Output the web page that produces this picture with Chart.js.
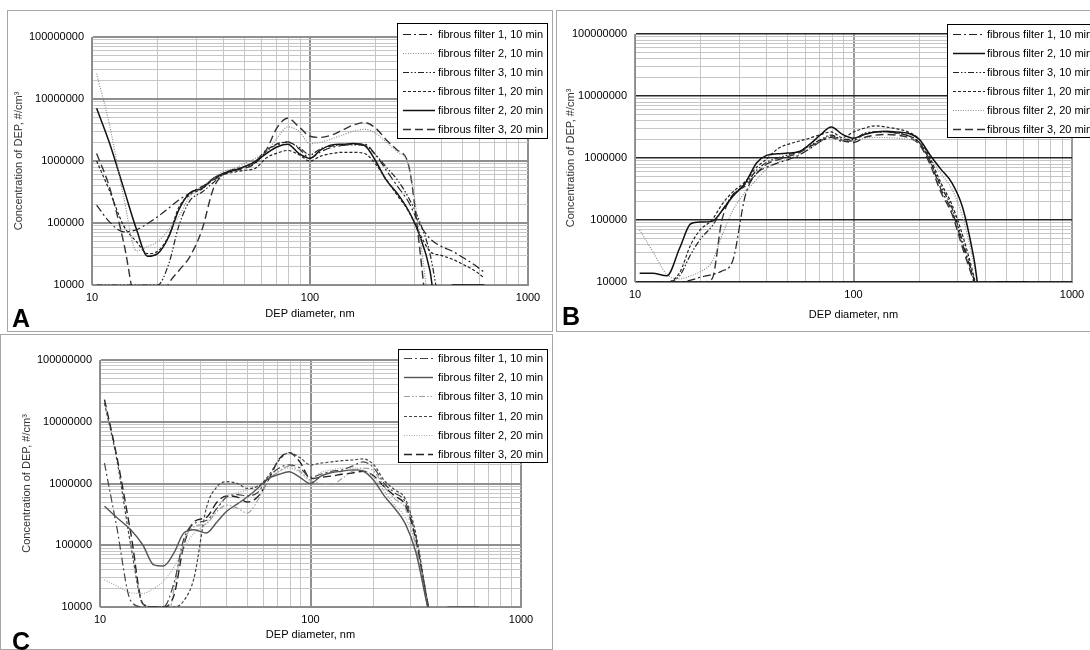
<!DOCTYPE html>
<html>
<head>
<meta charset="utf-8">
<script src="https://cdn.jsdelivr.net/npm/chart.js@4.4.1/dist/chart.umd.min.js"></script>
<style>
  html, body { margin: 0; padding: 0; background: #fff; }
  body { width: 1090px; height: 650px; position: relative; overflow: hidden; font-family: "Liberation Sans", Arial, sans-serif; }
  .panel { position: absolute; border: 1px solid #a6a6a6; box-sizing: border-box; background: #fff; }
  .panel canvas { position: absolute; left: 0; top: 0; }
  .tag { position: absolute; font-weight: bold; font-size: 25px; line-height: 1; color: #000; }
</style>
</head>
<body>
<div class="panel" style="left:7px;top:10px;width:546px;height:322px;"><canvas id="chartA"></canvas></div>
<div class="panel" style="left:556px;top:10px;width:542px;height:322px;"><canvas id="chartB"></canvas></div>
<div class="panel" style="left:0px;top:334px;width:553px;height:316px;"><canvas id="chartC"></canvas></div>
<div class="tag" style="left:12px;top:306px;">A</div>
<div class="tag" style="left:562px;top:304px;">B</div>
<div class="tag" style="left:12px;top:629px;">C</div>
<script>
// particle diameters (nm), shared by every series
var diam = [10.5, 12, 14, 16, 18, 20, 22.5, 25, 28, 32, 36, 40, 45, 50, 56, 63, 71, 79, 89, 100,
            112, 126, 141, 158, 178, 200, 224, 251, 282, 316, 355, 400, 450, 510, 570, 630];

var seriesLabels = ['fibrous filter 1, 10 min', 'fibrous filter 2, 10 min', 'fibrous filter 3, 10 min',
                    'fibrous filter 1, 20 min', 'fibrous filter 2, 20 min', 'fibrous filter 3, 20 min'];

// tick labels
var xDecades = [10, 100, 1000];
var yDecades = [10000, 100000, 1000000, 10000000, 100000000];

///////////////////////////////////////// panel A (#/cm3)
var aF1m10 = [195000, 105000, 72000, 78000, 98000, 126000, 174000, 234000, 302000, 389000,
              490000, 631000, 741000, 813000, 977000, 1510000, 1820000, 2040000, 1580000, 1120000,
              1410000, 1660000, 1780000, 1860000, 1860000, 1260000, 708000, 398000, 224000, 100000,
              56000, 42000, 35000, 27000, 21000, 16000];
var aF2m10 = [25700000, 4000000, 251000, 35500, 42000, 50000, 78000, 126000, 263000, 389000,
              525000, 676000, 759000, 912000, 1100000, 1410000, 2400000, 3550000, 3020000, 1910000,
              2000000, 2290000, 2630000, 3020000, 3240000, 2820000, 2000000, 1410000, 891000, 79000,
              3000, null, null, null, null, null];
var aF3m10 = [10000, 10000, 10000, 10000, 10000, 10000, 22000, 89000, 224000, 316000,
              447000, 603000, 708000, 794000, 933000, 1410000, 1910000, 2000000, 1660000, 1260000,
              1580000, 1740000, 1820000, 1820000, 1780000, 1260000, 794000, 501000, 263000, 112000,
              32000, 3000, null, null, null, null];
var aF1m20 = [1000000, 339000, 89000, 50000, 32000, 35000, 63000, 178000, 282000, 355000,
              501000, 603000, 661000, 708000, 759000, 1120000, 1350000, 1480000, 1260000, 1000000,
              1200000, 1320000, 1380000, 1380000, 1320000, 891000, 501000, 282000, 158000, 71000,
              35000, 30000, 26000, 21000, 17000, 13000];
var aF2m20 = [7080000, 2000000, 355000, 79000, 29000, 32000, 60000, 162000, 302000, 363000,
              525000, 631000, 708000, 813000, 977000, 1320000, 1700000, 1860000, 1320000, 1100000,
              1510000, 1820000, 1860000, 1910000, 1780000, 1000000, 490000, 302000, 162000, 68000,
              17000, 1000, 10000, 10000, 10000, 10000];
var aF3m20 = [1320000, 389000, 47000, 4000, 2500, 4000, 10500, 17000, 28000, 79000,
              355000, 603000, 708000, 759000, 912000, 1510000, 3550000, 4900000, 3550000, 2510000,
              2400000, 2630000, 3160000, 3800000, 4170000, 3390000, 2190000, 1510000, 912000, 50000,
              1000, null, null, null, null, null];

///////////////////////////////////////// panel B
var bF1m10 = [10000, 10000, 10000, 10000, 10700, 12000, 13200, 15000, 22000, 251000,
              562000, 708000, 832000, 933000, 1100000, 1410000, 1860000, 2140000, 1860000, 1910000,
              2400000, 2630000, 2630000, 2510000, 2290000, 1780000, 891000, 316000, 141000, 40000,
              11200, 2000, null, null, null, null];
var bF2m10 = [13800, 13800, 12600, 35000, 87000, 93000, 95000, 141000, 240000, 398000,
              832000, 1100000, 1170000, 1200000, 1260000, 1660000, 2400000, 3160000, 2400000, 2090000,
              2400000, 2630000, 2690000, 2630000, 2510000, 2000000, 1120000, 661000, 398000, 158000,
              25000, 2000, 10000, 10000, 10000, 10000];
var bF3m10 = [10000, 10000, 10000, 12600, 28000, 50000, 79000, 141000, 251000, 380000,
              631000, 851000, 1000000, 1120000, 1260000, 1580000, 2000000, 2340000, 2000000, 2000000,
              2510000, 2630000, 2630000, 2510000, 2290000, 1780000, 891000, 355000, 158000, 45000,
              11200, 2000, null, null, null, null];
var bF1m20 = [10000, 10000, 10000, 14100, 40000, 71000, 100000, 178000, 282000, 417000,
              708000, 955000, 1410000, 1660000, 1860000, 2090000, 2400000, 2630000, 2140000, 2630000,
              3020000, 3310000, 3160000, 2950000, 2630000, 2000000, 1000000, 398000, 178000, 56000,
              12600, 2000, null, null, null, null];
var bF2m20 = [69000, 32000, 13200, 11200, 12600, 14800, 21000, 56000, 141000, 282000,
              447000, 661000, 851000, 955000, 1120000, 1410000, 1910000, 2240000, 1910000, 1910000,
              2090000, 2140000, 2140000, 2090000, 2000000, 1780000, 1000000, 562000, 316000, 112000,
              20000, 2000, null, null, null, null];
var bF3m20 = [10000, 10000, 10000, 10000, 10000, 10000, 11200, 100000, 251000, 355000,
              562000, 794000, 933000, 1050000, 1200000, 1510000, 1910000, 2240000, 1910000, 1780000,
              2140000, 2340000, 2400000, 2340000, 2140000, 1660000, 794000, 282000, 126000, 35000,
              10000, 2000, null, null, null, null];

///////////////////////////////////////// panel C
var cF1m10 = [2140000, 200000, 12600, 10000, 10000, 10000, 25000, 126000, 224000, 251000,
              398000, 603000, 661000, 631000, 708000, 1260000, 1780000, 2000000, 1780000, 1260000,
              1410000, 1580000, 1660000, 1910000, 2240000, 1780000, 1000000, 708000, 501000, 141000,
              15800, 2000, null, null, null, null];
var cF2m10 = [427000, 282000, 178000, 100000, 48000, 46000, 76000, 158000, 178000, 158000,
              240000, 355000, 468000, 603000, 832000, 1200000, 1410000, 1550000, 1260000, 1000000,
              1320000, 1510000, 1580000, 1660000, 1580000, 1120000, 631000, 398000, 224000, 79000,
              12600, 2000, 10000, 10000, 10000, 10000];
var cF3m10 = [3000, 3000, 3000, 3000, 3000, 3000, 20000, 112000, 200000, 224000,
              355000, 447000, 398000, 331000, 525000, 1120000, 1580000, 1910000, 1580000, 1120000,
              1000000, 955000, 1200000, 1580000, 1780000, 1580000, 891000, 562000, 398000, 100000,
              12600, 2000, null, null, null, null];
var cF1m20 = [20000000, 2510000, 100000, 11200, 10000, 10000, 10000, 12600, 30000, 400000,
              891000, 1070000, 1000000, 832000, 891000, 1320000, 2400000, 3160000, 2630000, 2000000,
              2140000, 2240000, 2340000, 2400000, 2510000, 2000000, 1120000, 794000, 562000, 158000,
              15800, 2000, null, null, null, null];
var cF2m20 = [27500, 22000, 17000, 16600, 20000, 26000, 45000, 89000, 158000, 224000,
              398000, 631000, 708000, 794000, 933000, 1200000, 1580000, 1780000, 1510000, 1120000,
              1510000, 1660000, 1780000, 1780000, 1660000, 1260000, 759000, 447000, 282000, 100000,
              12600, 2000, null, null, null, null];
var cF3m20 = [22900000, 2820000, 158000, 11200, 10000, 10000, 15800, 100000, 240000, 282000,
              501000, 631000, 603000, 501000, 603000, 1120000, 2510000, 3160000, 2240000, 1200000,
              1260000, 1320000, 1410000, 1480000, 1580000, 1320000, 891000, 631000, 447000, 126000,
              14100, 2000, null, null, null, null];

// line patterns
var DASHDOT = [8, 3, 2, 3];
var DASHDOTDOT = [6, 2, 1.5, 2, 1.5, 2];
var SHORTDASH = [3, 2];
var LONGDASH = [8, 4];
var DOTTED = [1, 1.5];
var SOLID = [];

Chart.defaults.font.family = '"Liberation Sans", Arial, sans-serif';
Chart.defaults.font.size = 11;
Chart.defaults.color = '#000';

// minor + major tick positions for the log axes
function logTicks(decades) {
    var out = [];
    for (var i = 0; i < decades.length - 1; i++) {
        for (var m = 1; m < 10; m++) out.push(m * decades[i]);
    }
    out.push(decades[decades.length - 1]);
    return out;
}

// legend box drawn inside the plot, like the original
const boxLegend = {
    id: 'boxLegend',
    afterDatasetsDraw(chart, args, o) {
        const ctx = chart.ctx;
        ctx.save();
        ctx.fillStyle = '#fff';
        ctx.fillRect(o.x, o.y, o.w, o.h);
        ctx.strokeStyle = '#000';
        ctx.lineWidth = 1;
        ctx.strokeRect(o.x + 0.5, o.y + 0.5, o.w, o.h);
        ctx.font = '11px "Liberation Sans", Arial, sans-serif';
        ctx.textBaseline = 'middle';
        chart.data.datasets.forEach((ds, i) => {
            const y = Math.round(o.row0 + i * o.rowH) + 0.5;
            ctx.beginPath();
            ctx.setLineDash(ds.borderDash || []);
            ctx.strokeStyle = ds.borderColor;
            ctx.lineWidth = ds.borderWidth;
            ctx.moveTo(o.lx0, y);
            ctx.lineTo(o.lx1, y);
            ctx.stroke();
            ctx.setLineDash([]);
            ctx.fillStyle = '#000';
            ctx.fillText(ds.label, o.tx, y + 0.5);
        });
        ctx.restore();
    }
};

function makeChart(id, series, styles, opt) {
    var canvas = document.getElementById(id);
    canvas.width = opt.w;
    canvas.height = opt.h;
    canvas.style.width = opt.w + 'px';
    canvas.style.height = opt.h + 'px';

    var datasets = series.map(function (vals, i) {
        return {
            label: seriesLabels[i],
            data: diam.map(function (d, j) { return { x: d, y: vals[j] }; }),
            borderColor: styles[i][1],
            borderWidth: styles[i][2],
            borderDash: styles[i][0],
            pointRadius: 0,
            fill: false,
            cubicInterpolationMode: 'monotone',
            spanGaps: false
        };
    });

    var xTicks = logTicks(xDecades);
    var yTicks = logTicks(yDecades);

    return new Chart(canvas.getContext('2d'), {
        type: 'line',
        data: { datasets: datasets },
        plugins: [boxLegend],
        options: {
            responsive: false,
            animation: false,
            layout: { padding: { left: 0, top: opt.pt, right: opt.pr, bottom: 0 } },
            plugins: {
                legend: { display: false },
                tooltip: { enabled: false },
                boxLegend: opt.legend
            },
            scales: {
                x: {
                    type: 'logarithmic',
                    min: 10,
                    max: 1000,
                    afterBuildTicks: function (s) { s.ticks = xTicks.map(function (v) { return { value: v }; }); },
                    afterFit: function (s) { s.height = opt.xh; },
                    ticks: {
                        autoSkip: false, maxRotation: 0, padding: 6, color: '#000',
                        callback: function (v) { return xDecades.indexOf(v) >= 0 ? String(v) : ''; }
                    },
                    grid: {
                        drawTicks: false,
                        color: function (c) { return c.tick && xDecades.indexOf(c.tick.value) >= 0 ? opt.vMajor : opt.minor; },
                        lineWidth: function (c) { return c.tick && xDecades.indexOf(c.tick.value) >= 0 ? 2 : 1; }
                    },
                    border: { color: '#8a8a8a' },
                    title: { display: true, text: 'DEP diameter, nm', color: '#000', padding: { top: 0, bottom: opt.xtPad } }
                },
                y: {
                    type: 'logarithmic',
                    min: 10000,
                    max: 100000000,
                    afterBuildTicks: function (s) { s.ticks = yTicks.map(function (v) { return { value: v }; }); },
                    afterFit: function (s) { s.width = opt.yw; },
                    ticks: {
                        autoSkip: false, padding: 8, color: '#000',
                        callback: function (v) { return yDecades.indexOf(v) >= 0 ? String(v) : ''; }
                    },
                    grid: {
                        drawTicks: false,
                        color: function (c) { return c.tick && yDecades.indexOf(c.tick.value) >= 0 ? opt.hMajor : opt.minor; },
                        lineWidth: function (c) { return c.tick && yDecades.indexOf(c.tick.value) >= 0 ? opt.hMajorW : 1; }
                    },
                    border: { color: '#8a8a8a' },
                    title: { display: true, text: 'Concentration of DEP, #/cm\u00b3', color: '#333', padding: { top: opt.ytPad, bottom: 0 } }
                }
            }
        }
    });
}

// Panel A
makeChart('chartA', [aF1m10, aF2m10, aF3m10, aF1m20, aF2m20, aF3m20], [
    [DASHDOT, '#222', 1.2], [DOTTED, '#8c8c8c', 1.2], [DASHDOTDOT, '#222', 1.2],
    [SHORTDASH, '#222', 1.2], [SOLID, '#111', 1.5], [LONGDASH, '#333', 1.4]
], {
    w: 544, h: 320, pt: 26, pr: 24, yw: 84, xh: 46, xtPad: 10, ytPad: 4,
    hMajor: '#8f8f8f', hMajorW: 2, vMajor: '#8f8f8f', minor: '#c6c6c6',
    legend: { x: 389, y: 12, w: 150, h: 115, row0: 23, rowH: 19, lx0: 395, lx1: 427, tx: 430 }
});

// Panel B
makeChart('chartB', [bF1m10, bF2m10, bF3m10, bF1m20, bF2m20, bF3m20], [
    [DASHDOT, '#222', 1.2], [SOLID, '#111', 1.5], [DASHDOTDOT, '#222', 1.2],
    [SHORTDASH, '#222', 1.2], [DOTTED, '#8c8c8c', 1.2], [LONGDASH, '#333', 1.4]
], {
    w: 540, h: 320, pt: 23, pr: 25, yw: 78, xh: 49, xtPad: 9, ytPad: 7,
    hMajor: '#262626', hMajorW: 1.5, vMajor: '#9a9a9a', minor: '#c6c6c6',
    legend: { x: 390, y: 13, w: 150, h: 113, row0: 23, rowH: 19, lx0: 396, lx1: 428, tx: 430 }
});

// Panel C
makeChart('chartC', [cF1m10, cF2m10, cF3m10, cF1m20, cF2m20, cF3m20], [
    [DASHDOT, '#444', 1.2], [SOLID, '#555', 1.4], [DASHDOTDOT, '#a0a0a0', 1.2],
    [SHORTDASH, '#444', 1.2], [DOTTED, '#a6a6a6', 1.2], [LONGDASH, '#222', 1.4]
], {
    w: 551, h: 314, pt: 25, pr: 31, yw: 99, xh: 42, xtPad: 7, ytPad: 19,
    hMajor: '#8f8f8f', hMajorW: 2, vMajor: '#8f8f8f', minor: '#c6c6c6',
    legend: { x: 397, y: 14, w: 149, h: 113, row0: 23, rowH: 19.2, lx0: 403, lx1: 432, tx: 437 }
});
</script>
</body>
</html>
